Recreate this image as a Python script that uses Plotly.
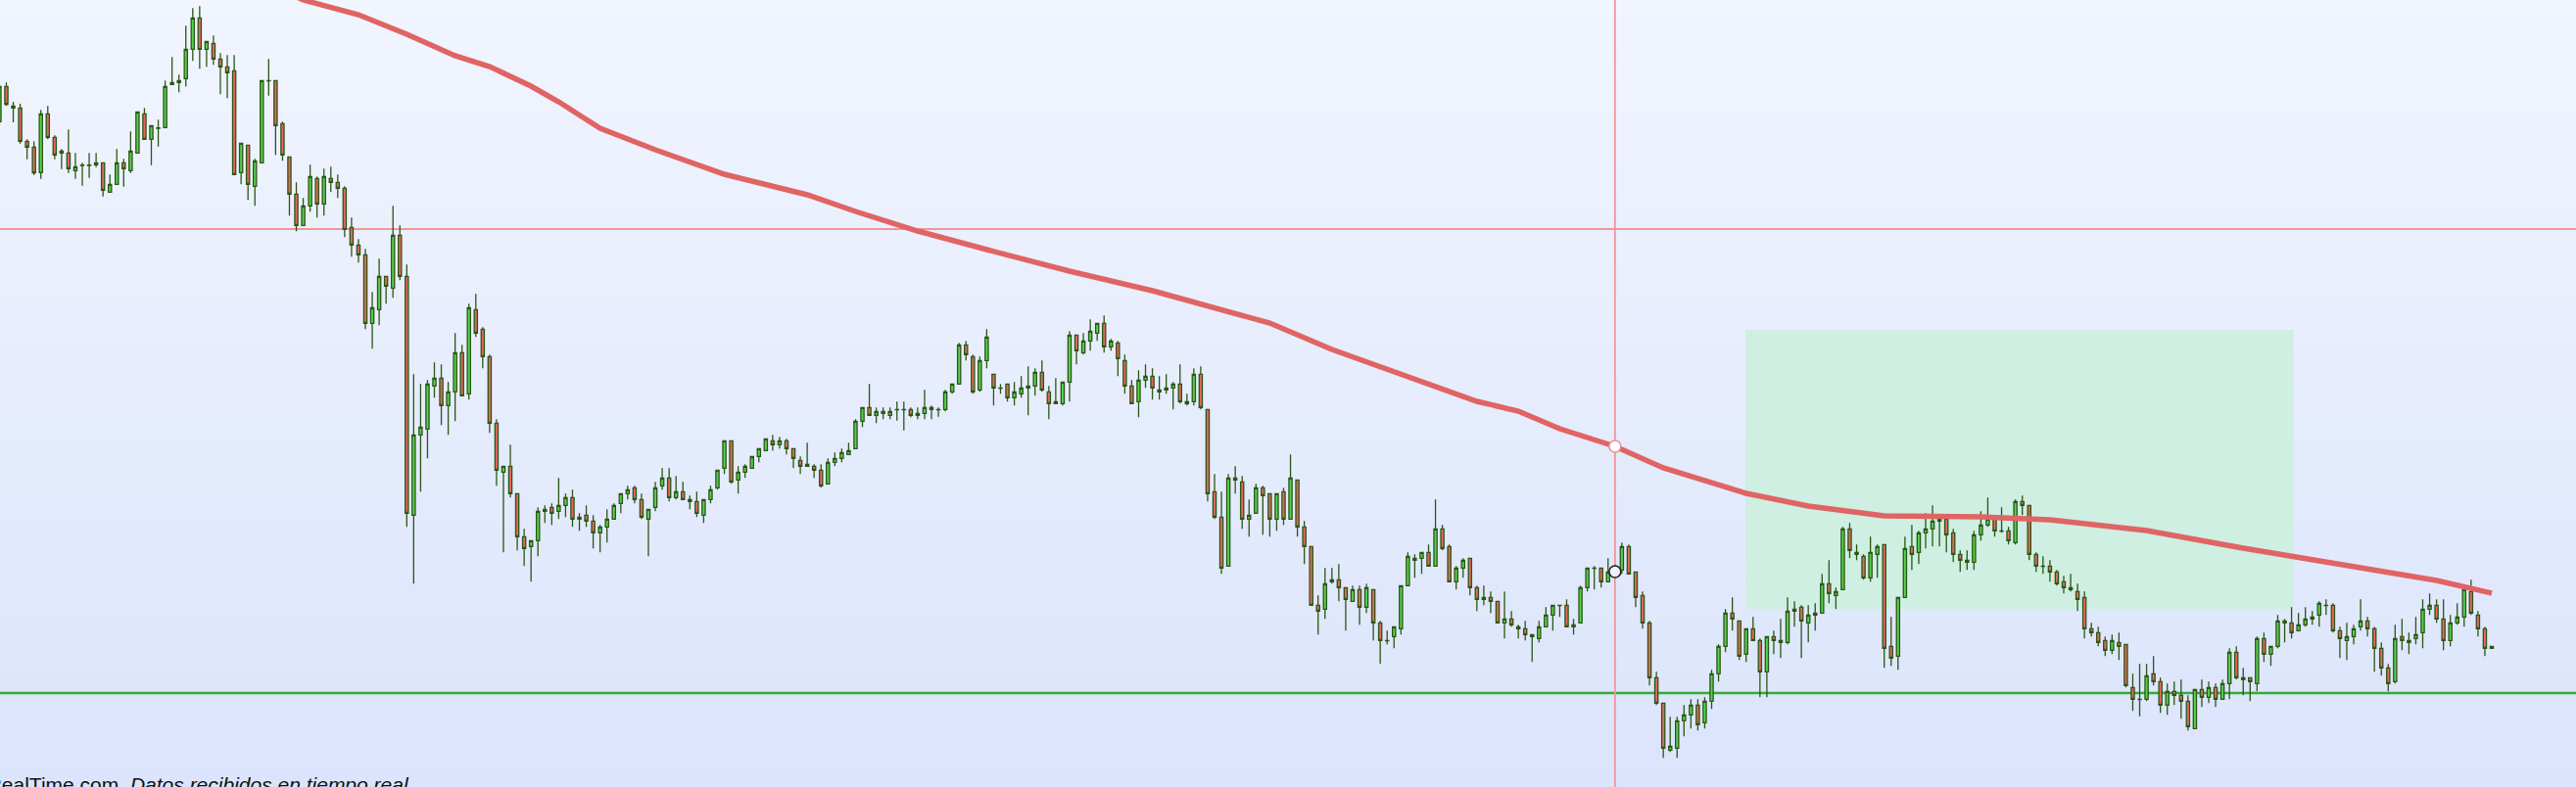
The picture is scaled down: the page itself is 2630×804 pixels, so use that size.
import plotly.graph_objects as go

# ---------------- data (price units, no axis shown) ----------------
open_ = [2039,2147,2087,2081,1979,1961,1883,2063,1991,1943,1943,1889,1905,1905,1907,1913,1823,1847,1913,1889,
         1943,2063,1985,2019,2021,2153,2159,2171,2261,2357,2261,2279,2231,2207,2195,1883,1967,1841,1913,2164,
         2165,2033,1931,1817,1721,1781,1865,1787,1865,1853,1835,1715,1661,1631,1421,1463,1565,1529,1691,1565,
         833,1079,1097,1229,1253,1169,1211,1331,1205,1463,1403,1319,1115,965,983,899,767,737,755,845,
         857,845,863,887,821,833,815,779,797,821,869,899,917,881,821,857,923,947,887,905,
         881,875,833,881,917,977,1061,941,965,977,1013,1031,1061,1049,1061,1037,1001,989,983,971,
         929,995,1007,1019,1037,1121,1163,1139,1151,1139,1156,1156,1157,1145,1145,1163,1156,1157,1211,1235,
         1355,1319,1217,1307,1265,1222,1235,1193,1205,1229,1229,1271,1211,1175,1175,1241,1385,1331,1367,1391,
         1421,1349,1361,1307,1229,1181,1247,1259,1211,1217,1223,1235,1181,1181,1265,1157,905,827,677,947,
         935,821,839,917,899,821,905,821,941,797,737,557,545,629,635,611,569,605,551,605,
         503,448,461,485,617,701,701,719,677,791,737,629,671,701,611,575,581,569,503,515,
         491,485,467,455,491,527,556,557,491,503,611,670,671,629,659,665,737,659,587,503,
         335,257,113,119,203,221,251,197,263,347,431,533,509,407,485,449,353,461,449,443,
         539,551,503,533,533,623,587,605,791,719,707,641,713,743,431,401,581,737,719,779,
         791,821,821,779,713,695,689,773,803,821,784,785,749,875,863,713,676,677,659,629,
         611,599,581,485,473,449,419,443,437,305,268,269,347,323,251,293,281,263,179,299,
         275,305,269,317,413,335,335,317,455,407,431,509,503,479,497,515,527,556,557,479,
         449,461,491,509,485,425,365,323,461,443,455,473,545,557,515,449,503,521,599,527,
         485,431]
high = [2154,2159,2100,2094,1985,1979,2075,2087,1997,1955,2015,1943,1913,1943,1943,1913,1877,1955,1925,2009,
        2069,2081,2027,2045,2165,2237,2183,2333,2387,2393,2285,2303,2249,2243,2243,1973,1967,1925,2165,2231,
        2165,2039,1931,1853,1805,1907,1871,1895,1901,1877,1841,1745,1679,1649,1517,1619,1565,1781,1721,1601,
        1265,1235,1247,1301,1295,1241,1391,1355,1481,1511,1409,1325,1127,983,1049,899,791,755,857,863,
        869,947,899,911,839,863,833,803,851,869,899,923,923,899,851,935,977,977,953,935,
        893,905,881,923,971,1061,1061,983,989,1013,1037,1067,1079,1073,1067,1037,1013,1055,989,989,
        1007,1025,1037,1055,1127,1163,1235,1163,1163,1163,1181,1181,1163,1163,1217,1169,1163,1217,1235,1361,
        1367,1325,1319,1403,1265,1235,1235,1241,1259,1289,1283,1307,1229,1253,1241,1397,1385,1391,1433,1421,
        1445,1373,1367,1325,1247,1277,1295,1283,1259,1265,1241,1295,1205,1283,1289,1157,959,905,959,983,
        953,881,929,923,899,899,917,1019,941,815,737,587,671,671,683,611,617,617,623,605,
        509,479,491,617,719,713,719,743,881,803,743,677,701,701,617,617,599,569,599,539,
        497,509,467,509,551,557,557,575,515,617,671,677,671,701,683,749,743,659,599,509,
        353,257,215,215,251,269,269,275,359,437,545,581,509,485,521,455,461,479,515,581,
        569,557,557,563,653,695,611,797,809,743,713,767,743,743,521,581,767,803,785,839,
        863,827,827,791,725,725,785,845,887,827,857,797,881,893,863,719,707,695,665,647,
        653,623,599,503,491,461,467,473,437,347,377,377,401,335,317,323,329,281,299,329,
        323,317,329,425,431,365,335,461,473,431,527,515,551,533,551,539,569,575,563,491,
        503,497,575,521,491,443,377,497,515,473,521,575,593,575,575,527,563,617,635,539,
        491,431]
low = [2027,2087,2037,1972,1924,1876,1864,1985,1924,1894,1882,1864,1843,1867,1900,1810,1823,1847,1840,1882,
       1943,1985,1906,1963,2021,2153,2129,2147,2225,2201,2207,2213,2123,2111,1877,1847,1799,1781,1913,2119,
       1937,1919,1751,1703,1721,1763,1745,1751,1823,1805,1685,1625,1607,1403,1343,1415,1481,1499,1553,797,
       623,905,1007,1193,1109,1079,1121,1199,1187,1379,1283,1085,923,719,887,725,677,629,707,809,
       803,821,827,797,785,797,731,719,749,821,839,881,869,821,707,845,911,875,881,881,
       851,827,809,869,911,959,929,899,947,977,995,1031,1031,1037,1019,977,959,983,947,917,
       929,983,995,1019,1037,1103,1139,1115,1127,1127,1123,1093,1133,1127,1127,1127,1135,1151,1205,1235,
       1307,1205,1211,1283,1169,1205,1181,1169,1193,1139,1199,1211,1127,1175,1169,1181,1295,1325,1337,1367,
       1331,1337,1259,1205,1175,1133,1223,1187,1187,1205,1157,1175,1169,1169,1157,875,821,653,677,899,
       791,767,839,773,767,785,803,821,767,683,557,467,515,623,569,479,569,497,533,449,
       377,437,425,467,617,641,653,677,677,725,629,605,641,587,539,557,533,503,455,491,
       455,449,383,443,491,479,521,491,467,503,599,605,611,629,641,653,653,551,485,311,
       251,89,107,89,155,179,173,179,239,323,413,479,389,383,449,275,275,407,395,437,
       491,395,443,479,533,563,545,605,701,695,635,629,641,365,371,359,581,665,683,731,
       737,737,719,689,659,665,665,755,797,767,779,743,743,833,695,659,653,629,617,593,
       599,539,455,461,431,401,407,389,305,233,217,263,311,227,221,251,209,173,179,245,
       257,245,269,269,329,281,263,293,383,371,425,443,455,479,491,497,491,527,473,395,
       389,437,479,461,353,341,293,317,419,407,437,425,527,503,419,431,497,491,527,461,
       401,425]
close = [2147,2092,2081,1979,1961,1882,2063,1991,1937,1949,1895,1901,1906,1906,1913,1829,1847,1913,1895,1949,
         2069,1985,2027,2020,2147,2159,2165,2261,2357,2261,2285,2231,2207,2189,1877,1973,1847,1919,2165,2165,
         2027,1937,1817,1721,1781,1871,1787,1871,1853,1835,1709,1661,1631,1421,1469,1565,1535,1691,1565,839,
         1079,1103,1235,1253,1169,1211,1331,1199,1469,1391,1319,1115,971,983,899,767,731,755,845,851,
         839,863,887,821,827,815,779,797,821,863,899,911,881,827,851,917,947,887,905,881,
         875,839,881,911,971,1061,935,965,983,1013,1037,1067,1049,1061,1037,1007,983,983,971,923,
         995,1007,1025,1031,1121,1163,1139,1151,1145,1151,1157,1157,1139,1139,1163,1157,1157,1211,1235,1355,
         1325,1211,1307,1379,1223,1223,1193,1211,1223,1223,1271,1217,1175,1181,1241,1385,1337,1367,1397,1421,
         1349,1367,1313,1229,1175,1247,1259,1223,1217,1223,1235,1181,1175,1265,1163,899,827,671,947,941,
         821,833,917,893,821,899,821,947,797,737,557,539,623,635,611,575,605,551,611,503,
         449,449,491,617,707,695,719,677,791,731,629,671,695,611,575,581,569,503,515,497,
         485,467,461,491,527,557,557,491,497,611,671,671,629,659,665,737,653,581,503,335,
         257,119,125,203,221,251,191,263,347,431,533,515,401,485,449,353,461,449,443,539,
         545,509,527,527,623,593,599,791,725,713,641,719,737,425,395,581,731,713,779,791,
         815,815,773,713,695,689,773,803,821,785,785,755,875,863,713,677,677,659,623,611,
         605,575,485,473,443,419,449,431,311,269,269,341,323,251,293,281,263,185,299,275,
         305,269,317,413,335,329,323,455,407,431,509,503,473,497,515,521,563,557,479,455,
         461,485,509,485,425,365,317,455,449,449,467,545,557,515,449,503,521,605,533,485,
         425,425]

# long moving average, read at sample candles
ma_idx = [41, 44, 52, 59, 66, 71, 77, 81, 87, 95, 105, 117, 124, 133, 143, 155, 167, 176, 184, 193,
          203, 214, 220, 226, 234, 241, 253, 262, 273, 287, 297, 311, 325, 339, 353, 361]
ma_val = [2442, 2412, 2367, 2307, 2241, 2208, 2148, 2100, 2019, 1953, 1878, 1815, 1764, 1704, 1647, 1581, 1521, 1470, 1422, 1341,
          1266, 1182, 1152, 1098, 1044, 978, 900, 861, 831, 828, 819, 786, 732, 681, 633, 594]

# annotation levels / zone
resistance_level = 1710      # red horizontal line
support_level = 288          # green horizontal line
cursor_index = 234           # crosshair candle
cursor_ma = 1044
cursor_price = 660
zone_x = [252.9, 332.3]      # green zone (candle index)
zone_y = [546, 1401]         # green zone (price)

X_RANGE = [0.08, 373.2]
Y_RANGE = [0, 2412]

xs = list(range(len(open_)))

fig = go.Figure()

# background vertical gradient
top_rgb = (241, 245, 254)
bot_rgb = (219, 228, 252)
NB = 48
for i in range(NB):
    t = (i + 0.5) / NB
    c = tuple(round(bot_rgb[j] + (top_rgb[j] - bot_rgb[j]) * t) for j in range(3))
    fig.add_shape(type="rect", xref="paper", yref="paper", x0=0, x1=1,
                  y0=i / NB, y1=(i + 1) / NB + 0.002, line_width=0,
                  fillcolor="rgb(%d,%d,%d)" % c, layer="below")

# green zone
fig.add_shape(type="rect", xref="x", yref="y", x0=zone_x[0], x1=zone_x[1],
              y0=zone_y[0], y1=zone_y[1], line_width=0, fillcolor="#ceefe1", layer="below")

# horizontal lines
fig.add_shape(type="line", xref="paper", yref="y", x0=0, x1=1, y0=resistance_level, y1=resistance_level,
              line=dict(color="#f3949b", width=1.8), layer="below")
fig.add_shape(type="line", xref="paper", yref="y", x0=0, x1=1, y0=support_level, y1=support_level,
              line=dict(color="#35ad32", width=2.4), layer="below")

fig.add_trace(go.Candlestick(
    x=xs, open=open_, high=high, low=low, close=close,
    increasing=dict(line=dict(color="#2b5616", width=1.3), fillcolor="#55d34f"),
    decreasing=dict(line=dict(color="#2b5616", width=1.3), fillcolor="#e2695f"),
    whiskerwidth=0, hoverinfo="skip", showlegend=False))

fig.add_trace(go.Scatter(x=ma_idx, y=ma_val, mode="lines",
                         line=dict(color="#e06464", width=5.5), hoverinfo="skip", showlegend=False))

# crosshair
fig.add_trace(go.Scatter(x=[cursor_index, cursor_index], y=[Y_RANGE[0] - 100, Y_RANGE[1] + 100], mode="lines",
                         line=dict(color="#f3949b", width=1.8), hoverinfo="skip", showlegend=False))
fig.add_trace(go.Scatter(x=[cursor_index], y=[cursor_ma], mode="markers",
                         marker=dict(size=12, color="#ffffff", line=dict(color="#f08c8c", width=1.5)),
                         hoverinfo="skip", showlegend=False))
fig.add_trace(go.Scatter(x=[cursor_index], y=[cursor_price], mode="markers",
                         marker=dict(size=12, color="#eef1fb", line=dict(color="#222222", width=1.6)),
                         hoverinfo="skip", showlegend=False))

fig.add_annotation(xref="paper", yref="paper", x=0, y=0, xanchor="left", yanchor="bottom",
                   xshift=-48, yshift=-11, showarrow=False,
                   text="ProRealTime.com. <i>Datos recibidos en tiempo real</i>",
                   font=dict(family="Liberation Sans, Arial", size=21, color="#111111"))

fig.update_layout(
    width=2630, height=804, margin=dict(l=0, r=0, t=0, b=0),
    paper_bgcolor="#e6ecfd", plot_bgcolor="rgba(0,0,0,0)",
    boxgap=0.35, showlegend=False,
    xaxis=dict(range=X_RANGE, visible=False, rangeslider=dict(visible=False), fixedrange=True),
    yaxis=dict(range=Y_RANGE, visible=False, fixedrange=True),
)

fig.write_html("out.html", config={"displayModeBar": False},
               post_script="document.body.style.margin='0';document.body.style.overflow='hidden';")
